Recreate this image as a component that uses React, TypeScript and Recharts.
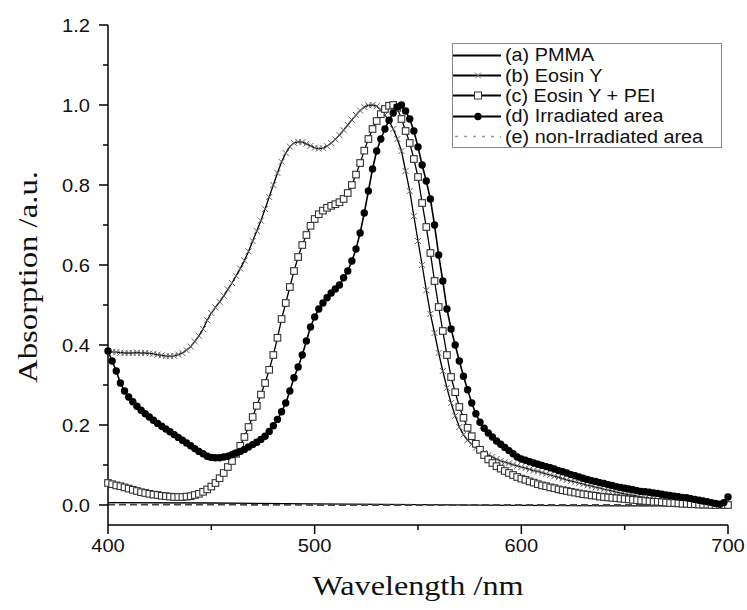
import React from 'react';
import { LineChart, Line, XAxis, YAxis } from 'recharts';

const WAVELENGTH = [
  400, 402, 404, 406, 408, 410, 412, 414, 416, 418,
  420, 422, 424, 426, 428, 430, 432, 434, 436, 438,
  440, 442, 444, 446, 448, 450, 452, 454, 456, 458,
  460, 462, 464, 466, 468, 470, 472, 474, 476, 478,
  480, 482, 484, 486, 488, 490, 492, 494, 496, 498,
  500, 502, 504, 506, 508, 510, 512, 514, 516, 518,
  520, 522, 524, 526, 528, 530, 532, 534, 536, 538,
  540, 542, 544, 546, 548, 550, 552, 554, 556, 558,
  560, 562, 564, 566, 568, 570, 572, 574, 576, 578,
  580, 582, 584, 586, 588, 590, 592, 594, 596, 598,
  600, 602, 604, 606, 608, 610, 612, 614, 616, 618,
  620, 622, 624, 626, 628, 630, 632, 634, 636, 638,
  640, 642, 644, 646, 648, 650, 652, 654, 656, 658,
  660, 662, 664, 666, 668, 670, 672, 674, 676, 678,
  680, 682, 684, 686, 688, 690, 692, 694, 696, 698,
  700,
];

const EOSIN_Y = [
  0.385, 0.383, 0.382, 0.381, 0.380, 0.380, 0.380, 0.381, 0.380, 0.380,
  0.379, 0.378, 0.376, 0.374, 0.372, 0.372, 0.373, 0.376, 0.380, 0.387,
  0.396, 0.409, 0.423, 0.440, 0.462, 0.480, 0.494, 0.508, 0.523, 0.539,
  0.555, 0.573, 0.591, 0.611, 0.634, 0.660, 0.685, 0.711, 0.740, 0.770,
  0.800, 0.830, 0.858, 0.880, 0.896, 0.905, 0.908, 0.907, 0.903, 0.898,
  0.893, 0.891, 0.892, 0.897, 0.905, 0.914, 0.925, 0.937, 0.950, 0.963,
  0.975, 0.986, 0.995, 0.999, 1.000, 0.997, 0.988, 0.975, 0.960, 0.940,
  0.915, 0.885, 0.835, 0.785, 0.722, 0.660, 0.600, 0.537, 0.478, 0.430,
  0.380, 0.335, 0.293, 0.255, 0.223, 0.195, 0.176, 0.162, 0.152, 0.143,
  0.136, 0.130, 0.125, 0.120, 0.115, 0.110, 0.107, 0.104, 0.101, 0.098,
  0.095, 0.092, 0.089, 0.086, 0.084, 0.081, 0.078, 0.075, 0.072, 0.069,
  0.066, 0.063, 0.060, 0.058, 0.055, 0.052, 0.049, 0.047, 0.044, 0.042,
  0.039, 0.037, 0.035, 0.032, 0.030, 0.028, 0.026, 0.024, 0.022, 0.020,
  0.018, 0.016, 0.015, 0.013, 0.012, 0.010, 0.009, 0.007, 0.006, 0.005,
  0.004, 0.003, 0.003, 0.002, 0.001, 0.001, 0.001, 0.000, 0.000, 0.000,
  0.000,
];

const EOSIN_Y_PEI = [
  0.055, 0.052, 0.049, 0.047, 0.044, 0.041, 0.038, 0.035, 0.032, 0.030,
  0.028, 0.026, 0.025, 0.023, 0.022, 0.021, 0.020, 0.020, 0.020, 0.021,
  0.022, 0.025, 0.028, 0.033, 0.039, 0.046, 0.055, 0.067, 0.080, 0.095,
  0.110, 0.128, 0.148, 0.170, 0.195, 0.220, 0.248, 0.276, 0.305, 0.338,
  0.375, 0.418, 0.465, 0.505, 0.545, 0.585, 0.620, 0.650, 0.675, 0.698,
  0.715, 0.727, 0.736, 0.743, 0.748, 0.752, 0.757, 0.765, 0.780, 0.800,
  0.826, 0.855, 0.886, 0.915, 0.940, 0.960, 0.977, 0.990, 0.998, 1.000,
  0.993, 0.965, 0.935, 0.905, 0.865, 0.820, 0.755, 0.695, 0.630, 0.560,
  0.495, 0.435, 0.375, 0.320, 0.282, 0.245, 0.218, 0.193, 0.172, 0.153,
  0.138, 0.125, 0.114, 0.105, 0.097, 0.091, 0.085, 0.080, 0.075, 0.070,
  0.066, 0.063, 0.059, 0.056, 0.052, 0.049, 0.047, 0.044, 0.042, 0.039,
  0.037, 0.035, 0.033, 0.031, 0.029, 0.027, 0.026, 0.024, 0.023, 0.021,
  0.020, 0.019, 0.018, 0.017, 0.016, 0.015, 0.014, 0.013, 0.012, 0.011,
  0.010, 0.009, 0.008, 0.008, 0.007, 0.006, 0.005, 0.005, 0.004, 0.003,
  0.003, 0.002, 0.002, 0.001, 0.001, 0.001, 0.000, 0.000, 0.000, 0.000,
  0.000,
];

const IRRADIATED = [
  0.385, 0.360, 0.335, 0.305, 0.285, 0.270, 0.258, 0.247, 0.237, 0.228,
  0.220, 0.212, 0.204, 0.197, 0.190, 0.183, 0.176, 0.169, 0.162, 0.155,
  0.148, 0.141, 0.134, 0.128, 0.122, 0.119, 0.118, 0.118, 0.120, 0.122,
  0.126, 0.130, 0.134, 0.139, 0.145, 0.151, 0.157, 0.164, 0.172, 0.184,
  0.198, 0.214, 0.233, 0.255, 0.285, 0.318, 0.345, 0.375, 0.410, 0.445,
  0.470, 0.490, 0.505, 0.518, 0.530, 0.540, 0.550, 0.568, 0.585, 0.610,
  0.640, 0.680, 0.730, 0.785, 0.840, 0.885, 0.915, 0.940, 0.962, 0.980,
  0.995, 1.000, 0.985, 0.965, 0.935, 0.895, 0.850, 0.810, 0.765, 0.700,
  0.625, 0.560, 0.490, 0.440, 0.400, 0.360, 0.322, 0.288, 0.255, 0.228,
  0.207, 0.192, 0.180, 0.170, 0.160, 0.152, 0.144, 0.136, 0.128, 0.120,
  0.115, 0.112, 0.108, 0.105, 0.102, 0.099, 0.096, 0.093, 0.090, 0.086,
  0.083, 0.080, 0.076, 0.073, 0.070, 0.067, 0.064, 0.061, 0.059, 0.056,
  0.054, 0.051, 0.049, 0.046, 0.044, 0.042, 0.040, 0.038, 0.036, 0.034,
  0.033, 0.032, 0.030, 0.029, 0.027, 0.025, 0.024, 0.022, 0.021, 0.019,
  0.018, 0.016, 0.014, 0.012, 0.010, 0.008, 0.006, 0.004, 0.002, 0.006,
  0.020,
];

const FLAT_WAVELENGTH = [400, 450, 500, 550, 600, 650, 700];
const PMMA = [0.006, 0.005, 0.003, 0.001, -0.001, -0.002, -0.002];
const NON_IRRADIATED = [0.001, 0.001, 0.0, 0.0, 0.0, 0.0, 0.0];

const X_TICKS = [400, 450, 500, 550, 600, 650, 700];
const X_MAJOR = [400, 500, 600, 700];
const Y_TICKS = [0, 0.1, 0.2, 0.3, 0.4, 0.5, 0.6, 0.7, 0.8, 0.9, 1.0, 1.1, 1.2];
const Y_MAJOR = [0, 0.2, 0.4, 0.6, 0.8, 1.0, 1.2];

const LEGEND_LABELS = [
  '(a) PMMA',
  '(b) Eosin Y',
  '(c) Eosin Y + PEI',
  '(d) Irradiated area',
  '(e) non-Irradiated area',
];

const X_TITLE = 'Wavelength /nm';
const Y_TITLE = 'Absorption /a.u.';

const SANS = '"Liberation Sans", Arial, sans-serif';
const SERIF = '"Liberation Serif", "Times New Roman", serif';

const mainData = WAVELENGTH.map((w, i) => ({
  w,
  b: EOSIN_Y[i],
  c: EOSIN_Y_PEI[i],
  d: IRRADIATED[i],
}));
const pmmaData = FLAT_WAVELENGTH.map((w, i) => ({ w, v: PMMA[i] }));
const nonIrrData = FLAT_WAVELENGTH.map((w, i) => ({ w, v: NON_IRRADIATED[i] }));

const isMajorY = (v: number) => Y_MAJOR.some((m) => Math.abs(m - v) < 1e-6);

const BottomTick = (p: any) => {
  const { x, y, payload } = p;
  const major = X_MAJOR.includes(payload.value);
  return (
    <g>
      <line x1={x} x2={x} y1={y} y2={y + (major ? 9 : 5)} stroke="#000" strokeWidth={1.5} />
      {major && (
        <text
          transform={`translate(${x},${y + 27}) scale(1.12,1)`}
          textAnchor="middle"
          fontFamily={SANS}
          fontSize={18}
          fill="#111"
        >
          {payload.value}
        </text>
      )}
    </g>
  );
};

const TopTick = (p: any) => {
  const { x, y, payload } = p;
  const major = X_MAJOR.includes(payload.value);
  return <line x1={x} x2={x} y1={y} y2={y + (major ? 9 : 5)} stroke="#000" strokeWidth={1.5} />;
};

const LeftTick = (p: any) => {
  const { x, y, payload } = p;
  const major = isMajorY(payload.value);
  return (
    <g>
      <line x1={x} x2={x - (major ? 9 : 5)} y1={y} y2={y} stroke="#000" strokeWidth={1.5} />
      {major && (
        <text
          transform={`translate(${x - 18},${y + 6.5}) scale(1.12,1)`}
          textAnchor="end"
          fontFamily={SANS}
          fontSize={18}
          fill="#111"
        >
          {Number(payload.value).toFixed(1)}
        </text>
      )}
    </g>
  );
};

const RightTick = (p: any) => {
  const { x, y, payload } = p;
  const major = isMajorY(payload.value);
  return <line x1={x} x2={x - (major ? 9 : 5)} y1={y} y2={y} stroke="#000" strokeWidth={1.5} />;
};

const CrossDot = (p: any) => {
  const { cx, cy, index } = p;
  if (cx == null || cy == null) return <g key={`x-${index}`} />;
  const s = 3;
  return (
    <g key={`x-${index}`} stroke="#666" strokeWidth={1}>
      <line x1={cx - s} y1={cy - s} x2={cx + s} y2={cy + s} />
      <line x1={cx - s} y1={cy + s} x2={cx + s} y2={cy - s} />
    </g>
  );
};

const SquareDot = (p: any) => {
  const { cx, cy, index } = p;
  if (cx == null || cy == null) return <g key={`s-${index}`} />;
  return (
    <rect
      key={`s-${index}`}
      x={cx - 3.3}
      y={cy - 3.3}
      width={6.6}
      height={6.6}
      fill="#fff"
      stroke="#333"
      strokeWidth={1.1}
    />
  );
};

const CircleDot = (p: any) => {
  const { cx, cy, index } = p;
  if (cx == null || cy == null) return <g key={`c-${index}`} />;
  return <circle key={`c-${index}`} cx={cx} cy={cy} r={3.7} fill="#000" stroke="none" />;
};

const LegendSample = ({ kind }: { kind: number }) => {
  const y = 10.5;
  return (
    <svg width={48} height={21} style={{ display: 'block', flex: '0 0 48px' }}>
      {kind === 4 ? (
        <line x1={2} x2={48} y1={y} y2={y} stroke="#999" strokeWidth={1.6} strokeDasharray="3 6" />
      ) : (
        <line x1={0} x2={48} y1={y} y2={y} stroke="#000" strokeWidth={kind === 0 ? 2.2 : 1.8} />
      )}
      {kind === 1 && (
        <g stroke="#777" strokeWidth={1}>
          <line x1={22} y1={y - 3} x2={28} y2={y + 3} />
          <line x1={22} y1={y + 3} x2={28} y2={y - 3} />
        </g>
      )}
      {kind === 2 && <rect x={21.5} y={y - 3.5} width={7} height={7} fill="#fff" stroke="#333" />}
      {kind === 3 && <circle cx={25} cy={y} r={3.7} fill="#000" />}
    </svg>
  );
};

const LegendBox = () => (
  <div
    style={{
      position: 'absolute',
      left: 452,
      top: 43,
      border: '1px solid #888',
      background: '#fff',
      width: 270,
      height: 105,
      boxSizing: 'border-box',
      fontFamily: SANS,
      fontSize: 18,
      color: '#111',
      paddingTop: 1,
    }}
  >
    {LEGEND_LABELS.map((lab, i) => (
      <div key={lab} style={{ display: 'flex', alignItems: 'center', height: 20.4 }}>
        <LegendSample kind={i} />
        <span
          style={{
            display: 'inline-block',
            marginLeft: 4,
            transform: 'scale(1.1,1)',
            transformOrigin: 'left center',
            whiteSpace: 'nowrap',
            lineHeight: '20px',
          }}
        >
          {lab}
        </span>
      </div>
    ))}
  </div>
);

export default function App() {
  return (
    <div style={{ position: 'absolute', left: 0, top: 0, width: 747, height: 610, background: '#fff' }}>
      <LineChart
        width={747}
        height={610}
        data={mainData}
        margin={{ top: 25, right: 19, bottom: 0, left: 0 }}
      >
        <XAxis
          dataKey="w"
          type="number"
          domain={[400, 700]}
          ticks={X_TICKS}
          interval={0}
          height={85}
          tickSize={0}
          tickMargin={0}
          tickLine={false}
          axisLine={{ stroke: '#000', strokeWidth: 1.5 }}
          tick={(p: any) => <BottomTick {...p} />}
          label={{
            content: () => (
              <text
                transform="translate(418,595) scale(1.15,1)"
                textAnchor="middle"
                fontFamily={SERIF}
                fontSize={28}
                fill="#111"
              >
                {X_TITLE}
              </text>
            ),
          }}
        />
        <XAxis
          xAxisId="top"
          orientation="top"
          dataKey="w"
          type="number"
          domain={[400, 700]}
          ticks={X_TICKS}
          interval={0}
          height={0}
          tickSize={0}
          tickMargin={0}
          tickLine={false}
          axisLine={{ stroke: '#000', strokeWidth: 1.5 }}
          tick={(p: any) => <TopTick {...p} />}
        />
        <YAxis
          type="number"
          domain={[-0.05, 1.2]}
          ticks={Y_TICKS}
          interval={0}
          width={108}
          tickSize={0}
          tickMargin={0}
          tickLine={false}
          allowDataOverflow
          axisLine={{ stroke: '#000', strokeWidth: 1.5 }}
          tick={(p: any) => <LeftTick {...p} />}
          label={{
            content: () => (
              <text
                transform="translate(37,277) rotate(-90) scale(1.17,1)"
                textAnchor="middle"
                fontFamily={SERIF}
                fontSize={28}
                fill="#111"
              >
                {Y_TITLE}
              </text>
            ),
          }}
        />
        <YAxis
          yAxisId="right"
          orientation="right"
          type="number"
          domain={[-0.05, 1.2]}
          ticks={Y_TICKS}
          interval={0}
          width={0}
          tickSize={0}
          tickMargin={0}
          tickLine={false}
          allowDataOverflow
          axisLine={{ stroke: '#000', strokeWidth: 1.5 }}
          tick={(p: any) => <RightTick {...p} />}
        />
        <Line
          data={pmmaData}
          dataKey="v"
          name={LEGEND_LABELS[0]}
          type="linear"
          stroke="#000"
          strokeWidth={1.3}
          dot={false}
          activeDot={false}
          isAnimationActive={false}
        />
        <Line
          data={nonIrrData}
          dataKey="v"
          name={LEGEND_LABELS[4]}
          type="linear"
          stroke="#444"
          strokeWidth={1.8}
          strokeDasharray="7 4"
          dot={false}
          activeDot={false}
          isAnimationActive={false}
        />
        <Line
          dataKey="b"
          name={LEGEND_LABELS[1]}
          type="linear"
          stroke="#000"
          strokeWidth={1.3}
          dot={(p: any) => <CrossDot {...p} />}
          activeDot={false}
          isAnimationActive={false}
        />
        <Line
          dataKey="c"
          name={LEGEND_LABELS[2]}
          type="linear"
          stroke="#000"
          strokeWidth={1.3}
          dot={(p: any) => <SquareDot {...p} />}
          activeDot={false}
          isAnimationActive={false}
        />
        <Line
          dataKey="d"
          name={LEGEND_LABELS[3]}
          type="linear"
          stroke="#000"
          strokeWidth={1.6}
          dot={(p: any) => <CircleDot {...p} />}
          activeDot={false}
          isAnimationActive={false}
        />
      </LineChart>
      <LegendBox />
    </div>
  );
}
